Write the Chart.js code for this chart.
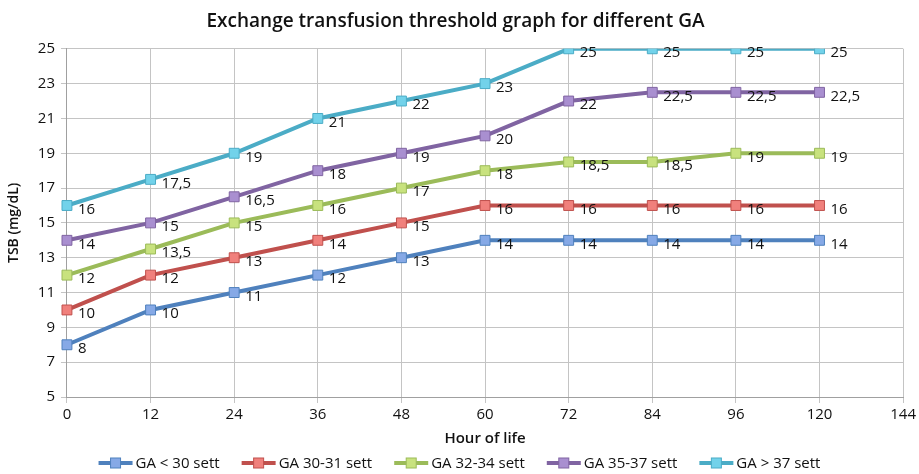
<!DOCTYPE html>
<html>
<head>
<meta charset="utf-8">
<script src="https://cdn.jsdelivr.net/npm/chart.js@4"></script>
<style>
  html, body { margin: 0; padding: 0; background: #fff; }
  #wrap { width: 919px; height: 474px; }
</style>
</head>
<body>
<div id="wrap"><canvas id="chart"></canvas></div>
<script>
const hours = ['0', '12', '24', '36', '48', '60', '72', '84', '96', '120', '144']

const gaUnder30 = [8, 10, 11, 12, 13, 14, 14, 14, 14, 14]
const ga3031 = [10, 12, 13, 14, 15, 16, 16, 16, 16, 16]
const ga3234 = [12, 13.5, 15, 16, 17, 18, 18.5, 18.5, 19, 19]
const ga3537 = [14, 15, 16.5, 18, 19, 20, 22, 22.5, 22.5, 22.5]
const gaOver37 = [16, 17.5, 19, 21, 22, 23, 25, 25, 25, 25]

const seriesNames = ['GA < 30 sett', 'GA 30-31 sett', 'GA 32-34 sett', 'GA 35-37 sett', 'GA > 37 sett']
const lineColors = ['#4f81bd', '#c0504d', '#9bbb59', '#8064a2', '#4bacc6']
const markerColors = ['#86a9e6', '#f0807c', '#c8e27e', '#a98fd0', '#72d2ea']

const FONT = '"Open Sans", sans-serif'
Chart.defaults.font.family = FONT
Chart.defaults.color = '#111'

const fmt = v => String(v).replace('.', ',')

// value labels to the right of each point
const pointLabels = {
  id: 'pointLabels',
  afterDatasetsDraw(chart) {
    const { ctx } = chart
    ctx.save()
    ctx.font = '15px ' + FONT
    ctx.fillStyle = '#111'
    ctx.textBaseline = 'middle'
    chart.data.datasets.forEach((ds, i) => {
      chart.getDatasetMeta(i).data.forEach((pt, j) => {
        ctx.fillText(fmt(ds.data[j]), pt.x + 11, pt.y + 4)
      })
    })
    ctx.restore()
  }
}

// excel style legend: line with a square marker, then the name
const bottomLegend = {
  id: 'bottomLegend',
  afterDraw(chart) {
    const { ctx, width } = chart
    const lineLen = 34
    const textGap = 3
    const itemGap = 22
    const y = 463
    ctx.save()
    ctx.font = '15px ' + FONT
    ctx.textBaseline = 'middle'
    const widths = seriesNames.map(n => lineLen + textGap + ctx.measureText(n).width)
    const total = widths.reduce((a, b) => a + b, 0) + itemGap * (widths.length - 1)
    let x = (width - total) / 2
    seriesNames.forEach((name, i) => {
      ctx.strokeStyle = lineColors[i]
      ctx.lineWidth = 4
      ctx.beginPath()
      ctx.moveTo(x, y)
      ctx.lineTo(x + lineLen, y)
      ctx.stroke()
      ctx.fillStyle = markerColors[i]
      ctx.lineWidth = 1
      ctx.fillRect(x + lineLen / 2 - 5, y - 5, 10, 10)
      ctx.strokeRect(x + lineLen / 2 - 5, y - 5, 10, 10)
      ctx.fillStyle = '#111'
      ctx.fillText(name, x + lineLen + textGap, y + 1)
      x += widths[i] + itemGap
    })
    ctx.restore()
  }
}

const seriesData = [gaUnder30, ga3031, ga3234, ga3537, gaOver37]

new Chart(document.getElementById('chart'), {
  type: 'line',
  plugins: [pointLabels, bottomLegend],
  data: {
    labels: hours,
    datasets: seriesData.map((d, i) => ({
      label: seriesNames[i],
      data: d,
      borderColor: lineColors[i],
      backgroundColor: lineColors[i],
      borderWidth: 4,
      pointStyle: 'rect',
      pointRadius: 7,
      pointBackgroundColor: markerColors[i],
      pointBorderColor: lineColors[i],
      pointBorderWidth: 1,
      tension: 0
    }))
  },
  options: {
    responsive: true,
    maintainAspectRatio: false,
    animation: false,
    layout: { padding: { left: 6, right: 14, top: 4, bottom: 26 } },
    plugins: {
      tooltip: { enabled: false },
      legend: { display: false },
      title: {
        display: true,
        text: 'Exchange transfusion threshold graph for different GA',
        font: { size: 19, weight: 600 },
        color: '#111',
        padding: { top: 6, bottom: 16 }
      }
    },
    scales: {
      x: {
        type: 'category',
        offset: false,
        grid: { color: '#c4c4c4', lineWidth: 1, tickLength: 6 },
        border: { color: '#a0a0a0' },
        ticks: { font: { size: 15 }, color: '#111', padding: 3 },
        title: { display: true, text: 'Hour of life', font: { size: 15, weight: 600 }, color: '#111', padding: { top: 3, bottom: 0 } }
      },
      y: {
        min: 5,
        max: 25,
        grid: { color: '#c4c4c4', lineWidth: 1, tickLength: 6 },
        border: { color: '#a0a0a0' },
        ticks: { stepSize: 2, font: { size: 15 }, color: '#111', padding: 6 },
        title: { display: true, text: 'TSB (mg/dL)', font: { size: 14, weight: 600 }, color: '#111', padding: { top: 0, bottom: 9 } }
      }
    }
  }
})
</script>
</body>
</html>
